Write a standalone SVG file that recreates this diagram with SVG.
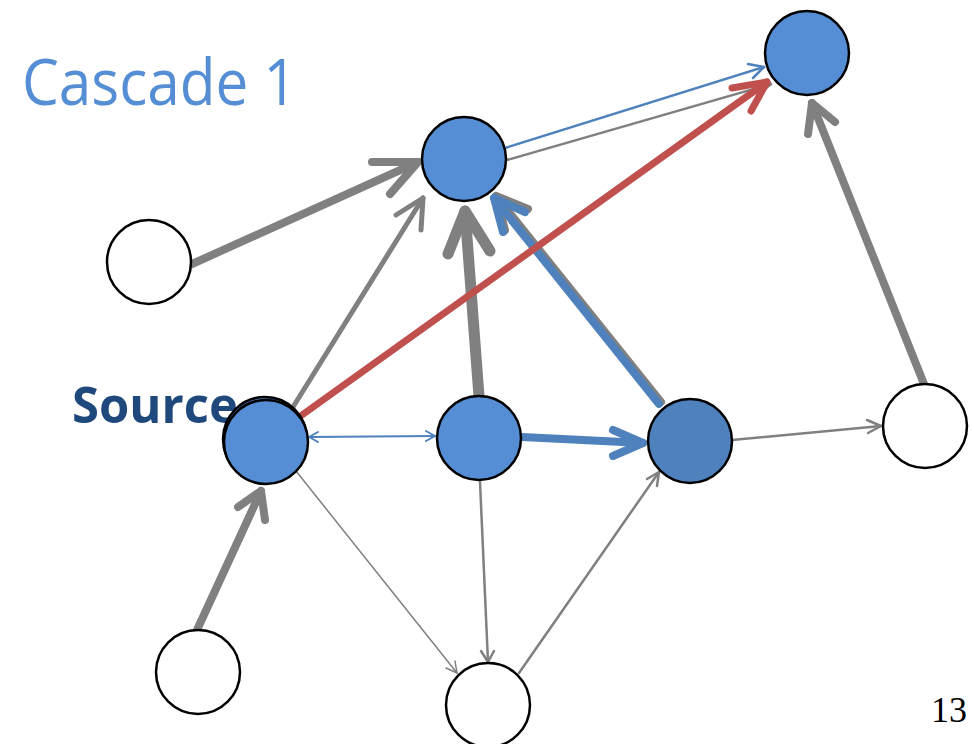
<svg xmlns="http://www.w3.org/2000/svg" width="974" height="744" viewBox="0 0 974 744">
  <style>
    .node { stroke: #000; stroke-width: 2.5; }
    .blue { fill: #558ed5; }
    .dark { fill: #4f81bd; }
    .white { fill: #fff; }
    .e { fill: none; stroke-linecap: round; stroke-linejoin: round; }
    .g { stroke: #808080; }
    .b { stroke: #4f81bd; }
    .r { stroke: #c0504d; }
    .title { font-family: "Open Sans", "Liberation Sans", sans-serif; font-size: 64px; fill: #558ed5; }
    .src { font-family: "Open Sans", "Liberation Sans", sans-serif; font-weight: bold; font-size: 51px; fill: #1f497d; }
    .num { font-family: "Liberation Serif", serif; font-size: 36px; fill: #000; }
  </style>
  <rect width="974" height="744" fill="#fff"/>
  <text class="title" x="22" y="105" textLength="275" lengthAdjust="spacingAndGlyphs">Cascade 1</text>
  <text class="src" x="72" y="423" textLength="166" lengthAdjust="spacingAndGlyphs">Source</text>
  <text class="num" x="931" y="722">13</text>

  <g id="connectors">
    <g id="e-C-B" class="e g" stroke-width="8">
      <line x1="192" y1="264" x2="418" y2="162"/>
      <polyline points="372,162 418,162 390,194"/>
    </g>
    <g id="e-D-B" class="e g" stroke-width="5">
      <line x1="293" y1="407" x2="423" y2="198"/>
      <polyline points="396,215 423,198 421,230"/>
    </g>
    <g id="e-E-B" class="e g" stroke-width="11">
      <line x1="479" y1="396" x2="465" y2="211"/>
      <polyline points="448,254 465,211 490,251"/>
    </g>
    <g id="e-F-B-gray" class="e g" stroke-width="8">
      <line x1="661" y1="402" x2="496" y2="196"/>
      <polyline points="505,230 496,196 528,209"/>
    </g>
    <g id="e-F-B" class="e b" stroke-width="8">
      <line x1="659" y1="404" x2="494" y2="198"/>
      <polyline points="503,232 494,198 525,212"/>
    </g>
    <g id="e-B-A-gray" class="e g" stroke-width="2.5">
      <line x1="507" y1="160" x2="771" y2="84"/>
      <polyline points="757,82 771,84 760,93"/>
    </g>
    <g id="e-B-A" class="e b" stroke-width="2.5">
      <line x1="505" y1="148" x2="764" y2="67"/>
      <polyline points="748,64 764,67 753,78"/>
    </g>
    <g id="e-G-A" class="e g" stroke-width="8">
      <line x1="924" y1="384" x2="812" y2="103"/>
      <polyline points="808,134 812,103 835,122"/>
    </g>
    <g id="e-D-E" class="e b" stroke-width="2">
      <line x1="309" y1="437" x2="435" y2="436"/>
      <polyline points="426,431 435,436 426,441"/>
      <polyline points="318,432 309,437 318,442"/>
    </g>
    <g id="e-E-F" class="e b" stroke-width="8">
      <line x1="522" y1="437" x2="643" y2="443"/>
      <polyline points="613,430 643,443 613,456"/>
    </g>
    <g id="e-F-G" class="e g" stroke-width="2.5">
      <line x1="732" y1="440" x2="881" y2="426"/>
      <polyline points="867,420 881,426 868,433"/>
    </g>
    <g id="e-H-D" class="e g" stroke-width="8">
      <line x1="197" y1="630" x2="261" y2="491"/>
      <polyline points="238,507 261,491 265,520"/>
    </g>
    <g id="e-D-I" class="e g" stroke-width="1.5">
      <line x1="296" y1="471" x2="457" y2="673"/>
      <polyline points="455,661 457,673 446,668"/>
    </g>
    <g id="e-E-I" class="e g" stroke-width="2.5">
      <line x1="480" y1="482" x2="488" y2="662"/>
      <polyline points="481,651 488,662 494,651"/>
    </g>
    <g id="e-I-F" class="e g" stroke-width="2.5">
      <line x1="519" y1="673" x2="659" y2="472"/>
      <polyline points="647,479 659,472 657,486"/>
    </g>
    <g id="e-D-A" class="e r" stroke-width="7">
      <line x1="302" y1="415" x2="767" y2="82"/>
      <polyline points="732,88 767,82 751,111"/>
    </g>
  </g>

  <g id="node-A"><circle class="node blue" cx="807" cy="53" r="42"/></g>
  <g id="node-B"><circle class="node blue" cx="464" cy="159" r="42"/></g>
  <g id="node-C"><circle class="node white" cx="149" cy="262" r="42"/></g>
  <g id="node-D">
    <circle class="node blue" cx="265" cy="439" r="42"/>
    <circle class="node blue" cx="266" cy="442" r="42"/>
  </g>
  <g id="node-E"><circle class="node blue" cx="479" cy="438" r="42"/></g>
  <g id="node-F"><circle class="node dark" cx="690" cy="441" r="42"/></g>
  <g id="node-G"><circle class="node white" cx="925" cy="426" r="42"/></g>
  <g id="node-H"><circle class="node white" cx="198" cy="672" r="42"/></g>
  <g id="node-I"><circle class="node white" cx="488" cy="705" r="42"/></g>
</svg>
